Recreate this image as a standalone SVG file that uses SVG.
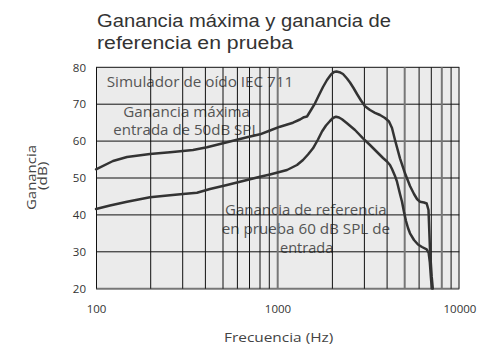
<svg xmlns="http://www.w3.org/2000/svg" width="479" height="351" viewBox="0 0 479 351">
<style>
text{font-family:"Open Sans","Liberation Sans",sans-serif}
.title{font-family:"Liberation Sans","Open Sans",sans-serif;font-size:17.5px;fill:#333}
.tick{font-size:11.5px;fill:#333}
.axis{font-size:13.5px;fill:#444}
.lab{font-size:14px;fill:#555}
.g{stroke:#111;stroke-width:1}
.gg{stroke:#777;stroke-width:2}
.curve{fill:none;stroke:#333;stroke-width:2.5;stroke-linejoin:round;stroke-linecap:round}
</style>
<rect width="479" height="351" fill="#fff"/>
<g id="title">
<text class="title" x="97" y="27.3" textLength="294" lengthAdjust="spacingAndGlyphs">Ganancia máxima y ganancia de</text>
<text class="title" x="97" y="49" textLength="196" lengthAdjust="spacingAndGlyphs">referencia en prueba</text>
</g>
<g id="plot-bg"><rect x="96" y="67.3" width="363.3" height="221.4" fill="#ebebeb"/></g>
<g id="labels">
<text class="lab" x="106.7" y="87.3" textLength="186.6" lengthAdjust="spacingAndGlyphs">Simulador de oído IEC 711</text>
<text class="lab" x="123.3" y="116.7" textLength="126.7" lengthAdjust="spacingAndGlyphs">Ganancia máxima</text>
<text class="lab" x="113.3" y="134.5" textLength="146" lengthAdjust="spacingAndGlyphs">entrada de 50dB SPL</text>
<text class="lab" x="225" y="215" textLength="161.7" lengthAdjust="spacingAndGlyphs">Ganancia de referencia</text>
<text class="lab" x="221.7" y="233.5" textLength="168.3" lengthAdjust="spacingAndGlyphs">en prueba 60 dB SPL de</text>
<text class="lab" x="280" y="253" textLength="53.3" lengthAdjust="spacingAndGlyphs">entrada</text>
</g>
<g id="grid">
<line class="g" x1="96" y1="67.3" x2="459.3" y2="67.3"/>
<line class="g" x1="96" y1="104.2" x2="459.3" y2="104.2"/>
<line class="g" x1="96" y1="141.1" x2="459.3" y2="141.1"/>
<line class="g" x1="96" y1="178" x2="459.3" y2="178" stroke="#444"/>
<line class="g" x1="96" y1="214.9" x2="459.3" y2="214.9" stroke="#444"/>
<line class="g" x1="96" y1="251.8" x2="459.3" y2="251.8"/>
<line class="gg" x1="96" y1="288.7" x2="459.3" y2="288.7" stroke="#666"/>
<line class="g" x1="96.5" y1="67.3" x2="96.5" y2="288.7"/>
<line class="g" x1="150.7" y1="67.3" x2="150.7" y2="288.7"/>
<line class="g" x1="182.7" y1="67.3" x2="182.7" y2="288.7"/>
<line class="g" x1="205.4" y1="67.3" x2="205.4" y2="288.7"/>
<line class="g" x1="223" y1="67.3" x2="223" y2="288.7"/>
<line class="g" x1="237.4" y1="67.3" x2="237.4" y2="288.7"/>
<line class="g" x1="249.5" y1="67.3" x2="249.5" y2="288.7"/>
<line class="g" x1="260" y1="67.3" x2="260" y2="288.7"/>
<line class="g" x1="269.3" y1="67.3" x2="269.3" y2="288.7"/>
<line class="gg" x1="277.7" y1="67.3" x2="277.7" y2="288.7"/>
<line class="g" x1="332.4" y1="67.3" x2="332.4" y2="288.7"/>
<line class="g" x1="364.4" y1="67.3" x2="364.4" y2="288.7"/>
<line class="g" x1="387.1" y1="67.3" x2="387.1" y2="288.7"/>
<line class="gg" x1="404.7" y1="67.3" x2="404.7" y2="288.7"/>
<line class="g" x1="419.1" y1="67.3" x2="419.1" y2="288.7"/>
<line class="g" x1="431.3" y1="67.3" x2="431.3" y2="288.7"/>
<line class="gg" x1="441.8" y1="67.3" x2="441.8" y2="288.7"/>
<line class="g" x1="451.1" y1="67.3" x2="451.1" y2="288.7"/>
<line class="g" x1="459" y1="67.3" x2="459" y2="288.7"/>
</g>
<g id="connectors">
<polyline id="curve-max" class="curve" points="96,169.3 113,161 127,157 150,154 170,152.3 193,150 207,147.3 227,142.3 247,137.3 260,134.3 270,130.5 280,126.7 293,122.7 300,119.5 304,117.2 307,116.5 311,110 315,103.3 319,95 323,87 327,80 331,74.5 334,72 336.5,71.5 339.5,72.2 343,74 347,78.5 350,82.5 353.5,88 357,94 361,100.5 365,106.2 370,110 375,112.8 380,115 385,118 389,121.5 392,128 395,140 400,158.3 405,173.3 410,186 414,194 417,199 420,201.7 424,202.5 426.7,203.5 428.5,210 430,250 431.7,276.7 432.8,288.5"/>
<polyline id="curve-ref" class="curve" points="96,209 110,205.5 127,201.7 150,197.3 170,195.2 183,194 197,192.7 210,189 227,185 243,181 260,176.7 270,174.5 287,170 297,165 303,160 308,154.5 313,148.3 318,139.5 322,131.5 326,125.5 330,121 333,118 336,116.7 339,117.5 342,119.3 347,123.3 355,130 363,138.3 370,145 377,152 383,158 387,161.5 390,165 392,169 395,176 397,181.7 400,194 402,201.7 404,212 406,221 408,228 410,233.3 414,240 418,244.5 422,247 426.7,249.3 428.7,253 429.8,262 430.8,276 431.8,288.5"/>
</g>
<g id="y-ticks">
<text class="tick" x="86" y="71.5" text-anchor="end">80</text>
<text class="tick" x="86" y="108.4" text-anchor="end">70</text>
<text class="tick" x="86" y="145.3" text-anchor="end">60</text>
<text class="tick" x="86" y="182.2" text-anchor="end">50</text>
<text class="tick" x="86" y="219.1" text-anchor="end">40</text>
<text class="tick" x="86" y="256" text-anchor="end">30</text>
<text class="tick" x="86" y="292.9" text-anchor="end">20</text>
</g>
<g id="x-ticks">
<text class="tick" x="96.5" y="313.3" text-anchor="middle">100</text>
<text class="tick" x="278" y="313.3" text-anchor="middle">1000</text>
<text class="tick" x="460" y="313.3" text-anchor="middle">10000</text>
</g>
<g id="axis-titles">
<text class="axis" x="224" y="341.7" textLength="109.3" lengthAdjust="spacingAndGlyphs">Frecuencia (Hz)</text>
<text class="axis" transform="translate(35.5,210) rotate(-90)" textLength="65" lengthAdjust="spacingAndGlyphs">Ganancia</text>
<text class="axis" transform="translate(47,190) rotate(-90)" textLength="28.3" lengthAdjust="spacingAndGlyphs">(dB)</text>
</g>
</svg>
